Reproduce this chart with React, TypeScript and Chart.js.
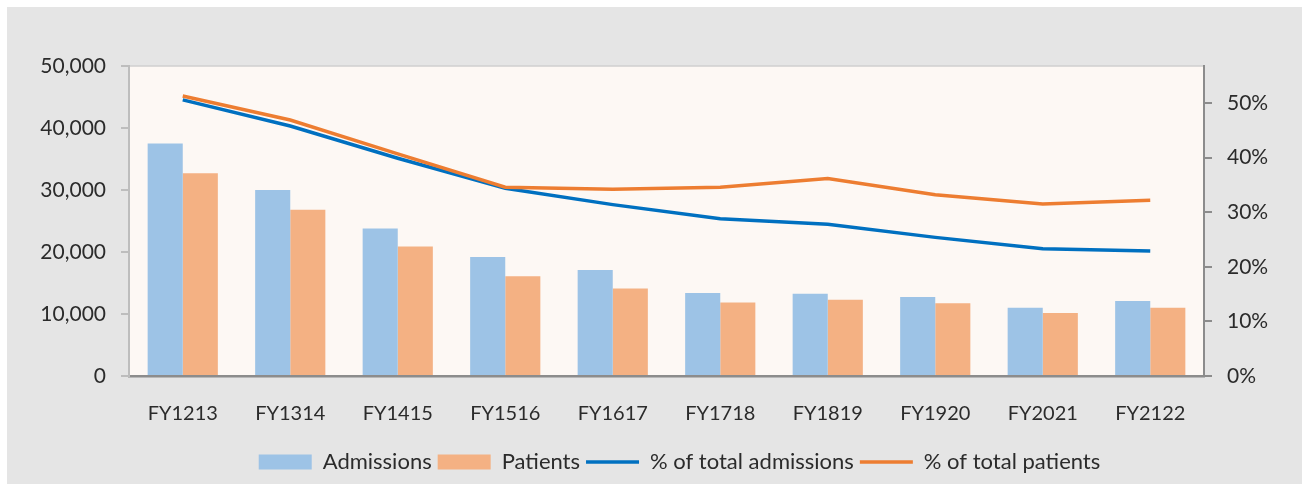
import React, { useEffect, useRef } from "react";
import { Chart, registerables } from "chart.js";

Chart.register(...registerables);

const categories = ["FY1213", "FY1314", "FY1415", "FY1516", "FY1617", "FY1718", "FY1819", "FY1920", "FY2021", "FY2122"];
const admissions = [37500, 30000, 23800, 19200, 17100, 13400, 13250, 12750, 11000, 12100];
const patients = [32700, 26800, 20900, 16100, 14100, 11850, 12300, 11750, 10150, 11000];
const pctAdmissions = [0.506, 0.458, 0.399, 0.344, 0.314, 0.288, 0.278, 0.254, 0.233, 0.229];
const pctPatients = [0.513, 0.469, 0.407, 0.346, 0.342, 0.346, 0.362, 0.332, 0.315, 0.322];
const seriesLabels = ["Admissions", "Patients", "% of total admissions", "% of total patients"];
const leftAxisMax = 50000;
const rightAxisMax = 0.568;

const FONT = "Lato";
const TEXT = "#2b2b2b";

const plotBackground = {
  id: "plotBackground",
  beforeDraw(chart: any) {
    const { ctx, chartArea } = chart;
    if (!chartArea) return;
    ctx.save();
    ctx.fillStyle = "#fdf8f4";
    ctx.fillRect(chartArea.left, chartArea.top, chartArea.right - chartArea.left, chartArea.bottom - chartArea.top);
    ctx.strokeStyle = "#cfcfcf";
    ctx.lineWidth = 1.5;
    ctx.beginPath();
    ctx.moveTo(chartArea.left, chartArea.top);
    ctx.lineTo(chartArea.right, chartArea.top);
    ctx.stroke();
    ctx.restore();
  },
};

const legendShift = {
  id: "legendShift",
  afterLayout(chart: any) {
    const lg = chart.legend;
    if (lg) {
      lg.left += 25;
      lg.right += 25;
    }
  },
};

export default function App() {
  const ref = useRef<HTMLCanvasElement | null>(null);

  useEffect(() => {
    if (!ref.current) return;
    const chart = new Chart(ref.current, {
      type: "bar",
      data: {
        labels: categories,
        datasets: [
          {
            type: "bar",
            label: seriesLabels[0],
            data: admissions,
            backgroundColor: "#9dc3e6",
            yAxisID: "y",
            order: 2,
            pointStyle: "rect",
            barPercentage: 1,
            categoryPercentage: 0.653,
          } as any,
          {
            type: "bar",
            label: seriesLabels[1],
            data: patients,
            backgroundColor: "#f4b183",
            yAxisID: "y",
            order: 2,
            pointStyle: "rect",
            barPercentage: 1,
            categoryPercentage: 0.653,
          } as any,
          {
            type: "line",
            label: seriesLabels[2],
            data: pctAdmissions,
            borderColor: "#0070c0",
            backgroundColor: "#0070c0",
            borderWidth: 3.5,
            pointRadius: 0,
            pointStyle: "line",
            tension: 0,
            yAxisID: "y1",
            order: 1,
          } as any,
          {
            type: "line",
            label: seriesLabels[3],
            data: pctPatients,
            borderColor: "#ed7d31",
            backgroundColor: "#ed7d31",
            borderWidth: 3.5,
            pointRadius: 0,
            pointStyle: "line",
            tension: 0,
            yAxisID: "y1",
            order: 0,
          } as any,
        ],
      },
      options: {
        responsive: false,
        animation: false,
        devicePixelRatio: 1,
        layout: { padding: { top: 59, left: 0, right: 0, bottom: 1 } },
        plugins: {
          tooltip: { enabled: false },
          legend: {
            position: "bottom",
            labels: {
              usePointStyle: true,
              pointStyleWidth: 53,
              boxHeight: 15,
              padding: 6,
              color: TEXT,
              font: { family: FONT, size: 22 },
              sort: (a: any, b: any) => a.datasetIndex - b.datasetIndex,
            },
          },
        },
        scales: {
          x: {
            grid: { display: false },
            border: { display: true, color: "#8c8c8c", width: 2.5 },
            ticks: { color: TEXT, font: { family: FONT, size: 20 }, padding: 18 },
            afterFit: (s: any) => {
              s.height = 69;
            },
          },
          y: {
            position: "left",
            min: 0,
            max: leftAxisMax,
            grid: { display: true, drawOnChartArea: false, drawTicks: true, tickLength: 8, color: "#bdbdbd", lineWidth: 2 },
            border: { display: true, color: "#bdbdbd", width: 2 },
            ticks: {
              stepSize: 10000,
              padding: 15,
              color: TEXT,
              font: { family: FONT, size: 21 },
              callback: (v: any) => Number(v).toLocaleString("en-US"),
            },
            afterFit: (s: any) => {
              s.width = 122;
            },
          },
          y1: {
            position: "right",
            min: 0,
            max: rightAxisMax,
            grid: { display: true, drawOnChartArea: false, drawTicks: true, tickLength: 8, color: "#8c8c8c", lineWidth: 2 },
            border: { display: true, color: "#8c8c8c", width: 2 },
            ticks: {
              stepSize: 0.1,
              padding: 15,
              color: TEXT,
              font: { family: FONT, size: 21 },
              callback: (v: any) => Math.round(Number(v) * 100) + "%",
            },
            afterBuildTicks: (s: any) => {
              s.ticks = s.ticks.filter((t: any) => Math.abs(t.value * 10 - Math.round(t.value * 10)) < 1e-6);
            },
            afterFit: (s: any) => {
              s.width = 98;
            },
          },
        },
      },
      plugins: [plotBackground, legendShift],
    });
    return () => chart.destroy();
  }, []);

  return (
    <div style={{ position: "absolute", left: 0, top: 0, width: 1302, height: 484, background: "#ffffff", overflow: "hidden" }}>
      <div style={{ position: "absolute", left: 7, top: 7, width: 1295, height: 477, background: "#e5e5e5" }}>
        <canvas ref={ref} width={1295} height={477} style={{ display: "block", width: 1295, height: 477 }} />
      </div>
    </div>
  );
}
